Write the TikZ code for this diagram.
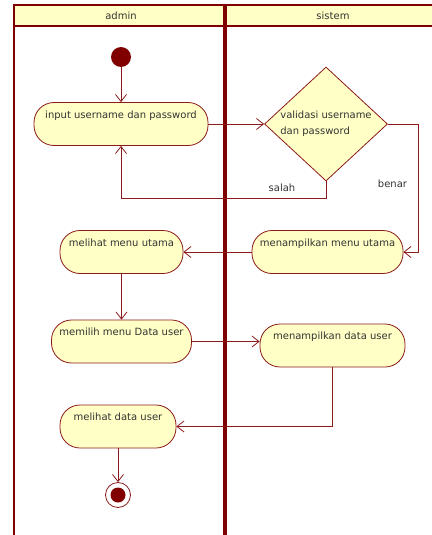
\documentclass[tikz,border=0pt]{standalone}
\usepackage{fontspec}
\setmainfont{DejaVu Sans}
\usetikzlibrary{shapes.geometric,arrows.meta}
\definecolor{lane}{HTML}{800000}
\definecolor{edge}{HTML}{8B1A1A}
\definecolor{actfill}{HTML}{FFFFC6}
\definecolor{ink}{HTML}{333333}
\tikzset{
  txt/.style={text=ink, font=\fontsize{10}{16}\selectfont},
  act/.style={txt, draw=edge, fill=actfill, rounded corners=20pt, line width=0.8pt,
    inner xsep=0pt, inner ysep=0pt, text height=15.5pt, text depth=27.5pt},
  decision/.style={txt, diamond, draw=edge, fill=actfill, line width=0.8pt, aspect=1.08,
    minimum width=123pt, minimum height=114pt, inner sep=0pt, align=left},
  flow/.style={draw=edge, line width=0.8pt, -{Straight Barb[length=7pt,width=11pt]}},
  startnode/.style={circle, fill=lane, minimum size=20pt, inner sep=0pt},
  endnode/.style={circle, draw=edge, fill=white, line width=0.8pt, minimum size=25pt, inner sep=0pt,
    path picture={\fill[lane] (path picture bounding box.center) circle (7.5pt);}},
  lanerule/.style={draw=lane, line width=2pt},
}
\begin{document}
\begin{tikzpicture}[x=1pt,y=-1pt]
\useasboundingbox (0,0) rectangle (431,535);

% swimlane frame
\fill[actfill] (13,5) rectangle (432,26);
\draw[lanerule] (13,5) -- (432,5);
\draw[lanerule] (13,26) -- (432,26);
\draw[lanerule] (13.5,4) -- (13.5,536);
\draw[draw=lane, line width=3.5pt] (225,4) -- (225,536);
\node[txt] (laneA) at (121,16) {admin};
\node[txt] (laneB) at (333,16) {sistem};

% nodes
\node[startnode] (start) at (121,57) {};
\node[act, minimum width=174pt] (input) at (121,124) {input username dan password};
\node[decision] (valid) at (326,124) {validasi username\\dan password};
\node[act, minimum width=151pt] (showmenu) at (327.5,252) {menampilkan menu utama};
\node[act, minimum width=123pt] (seemenu) at (121.5,252) {melihat menu utama};
\node[act, minimum width=140pt] (pick) at (121.5,341.5) {memilih menu Data user};
\node[act, minimum width=145pt] (showdata) at (332.5,345.5) {menampilkan data user};
\node[act, minimum width=116pt] (seedata) at (118,426.5) {melihat data user};
\node[endnode] (stop) at (118,495) {};

% connectors
\draw[flow] (start) -- (input.north);
\draw[flow] (input.east) -- (valid.west);
\draw[flow] (valid.south) -- ++(0,17) coordinate (salahbend) -| (input.south);
\node[txt] (salah) at (282,188) {salah};
\draw[flow] (valid.east) -- ++(30,0) |- (showmenu.east);
\node[txt] (benar) at (392.5,184) {benar};
\draw[flow] (showmenu.west) -- (seemenu.east);
\draw[flow] (seemenu.south) -- (seemenu.south |- pick.north);
\draw[flow] (pick.east) -- (pick.east -| showdata.west);
\draw[flow] (showdata.south) |- (seedata.east);
\draw[flow] (seedata.south) -- (stop.north);
\end{tikzpicture}
\end{document}
